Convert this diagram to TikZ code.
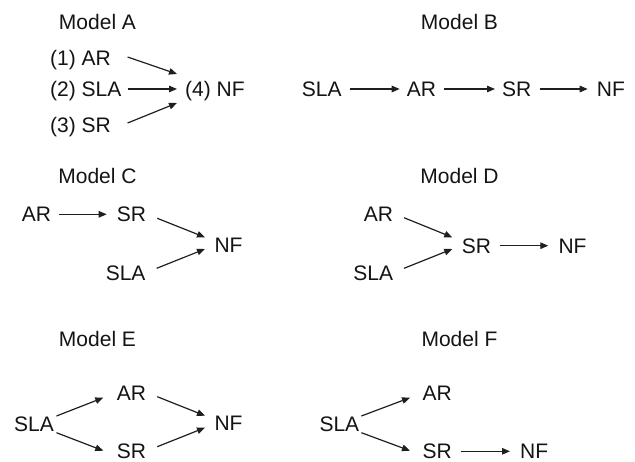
\documentclass[tikz,border=0pt]{standalone}
\usepackage{fontspec}
\setmainfont{Liberation Sans}
\usetikzlibrary{arrows.meta,calc}
\tikzset{
  lbl/.style={inner sep=0pt, text height=15pt, text depth=0pt, font=\fontsize{21}{21}\selectfont, text=black!92},
  arr/.style={draw=black!88, line width=1.2pt, -{Triangle[length=8pt,width=6.5pt]}}
}
\begin{document}
\begin{tikzpicture}[x=1pt,y=-1pt]
\useasboundingbox[fill=white] (0,0) rectangle (635,461);
% Model A
\node[lbl] (tA) at (97.5,22) {Model A};
\node[lbl,anchor=west] (a1) at (50,58) {(1) AR};
\node[lbl,anchor=west] (a2) at (50,89) {(2) SLA};
\node[lbl,anchor=west] (a3) at (50,125) {(3) SR};
\node[lbl,anchor=west] (a4) at (185,89) {(4) NF};
\draw[arr] ($(a2.east |- a1)+(6,-1)$) -- ($(a4.west)+(-8,-15)$);
\draw[arr] ($(a2.east)+(6,0)$) -- ($(a4.west)+(-8,0)$);
\draw[arr] ($(a2.east |- a3)+(6,-2)$) -- ($(a4.west)+(-8,14)$);
% Model B
\node[lbl] (tB) at (459.5,22) {Model B};
\node[lbl,anchor=west] (b1) at (301.7,89) {SLA};
\node[lbl,anchor=west] (b2) at (406.7,89) {AR};
\node[lbl,anchor=west] (b3) at (502,89) {SR};
\node[lbl,anchor=west] (b4) at (596.7,89) {NF};
\draw[arr] ($(b1.east)+(8,0)$) -- ($(b2.west)+(-7,0)$);
\draw[arr] ($(b2.east)+(8,0)$) -- ($(b3.west)+(-7,0)$);
\draw[arr] ($(b3.east)+(8,0)$) -- ($(b4.west)+(-9,0)$);
% Model C
\node[lbl] (tC) at (97.5,176) {Model C};
\node[lbl,anchor=west] (c1) at (21.7,214.3) {AR};
\node[lbl,anchor=west] (c2) at (116.7,214.3) {SR};
\node[lbl,anchor=west] (c3) at (214.3,245) {NF};
\node[lbl,anchor=east] (c4) at (145.7,273.3) {SLA};
\draw[arr] ($(c1.east)+(7.7,0)$) -- ($(c2.west)+(-10,0)$);
\draw[arr] ($(c2.east)+(11,4)$) -- ($(c3.west)+(-9.3,-7.7)$);
\draw[arr] ($(c4.east)+(11,-5)$) -- ($(c3.west)+(-9.3,4)$);
% Model D
\node[lbl] (tD) at (459.5,176) {Model D};
\node[lbl,anchor=east] (d1) at (393.3,214.3) {AR};
\node[lbl,anchor=east] (d2) at (393.3,273.3) {SLA};
\node[lbl,anchor=west] (d3) at (461.7,245.7) {SR};
\node[lbl,anchor=west] (d4) at (558.3,245.7) {NF};
\draw[arr] ($(d1.east)+(10.7,3.4)$) -- ($(d3.west)+(-9.4,-8.4)$);
\draw[arr] ($(d2.east)+(10.7,-5)$) -- ($(d3.west)+(-9.4,3.3)$);
\draw[arr] ($(d3.east)+(8.3,0)$) -- ($(d4.west)+(-10,0)$);
% Model E
\node[lbl] (tE) at (97.5,339) {Model E};
\node[lbl,anchor=west] (e1) at (14,424) {SLA};
\node[lbl,anchor=west] (e2) at (116.7,393.3) {AR};
\node[lbl,anchor=west] (e3) at (116.7,451.3) {SR};
\node[lbl,anchor=west] (e4) at (214.3,423.3) {NF};
\draw[arr] ($(e1.east)+(2.4,-8)$) -- ($(e2.west)+(-13.4,4.4)$);
\draw[arr] ($(e1.east)+(2.4,8.7)$) -- ($(e3.west)+(-13.4,-0.6)$);
\draw[arr] ($(e2.east)+(11,3.4)$) -- ($(e4.west)+(-9.3,-7.6)$);
\draw[arr] ($(e3.east)+(11,-4.6)$) -- ($(e4.west)+(-9.3,4.4)$);
% Model F
\node[lbl] (tF) at (459.5,339) {Model F};
\node[lbl,anchor=west] (f1) at (319.3,424) {SLA};
\node[lbl,anchor=west] (f2) at (422.3,393.3) {AR};
\node[lbl,anchor=west] (f3) at (422.3,451.3) {SR};
\node[lbl,anchor=west] (f4) at (520,451.3) {NF};
\draw[arr] ($(f1.east)+(2,-8)$) -- ($(f2.west)+(-12.3,4.4)$);
\draw[arr] ($(f1.east)+(2,8.7)$) -- ($(f3.west)+(-12.3,-0.6)$);
\draw[arr] ($(f3.east)+(9,0)$) -- ($(f4.west)+(-10,0)$);
\end{tikzpicture}
\end{document}
